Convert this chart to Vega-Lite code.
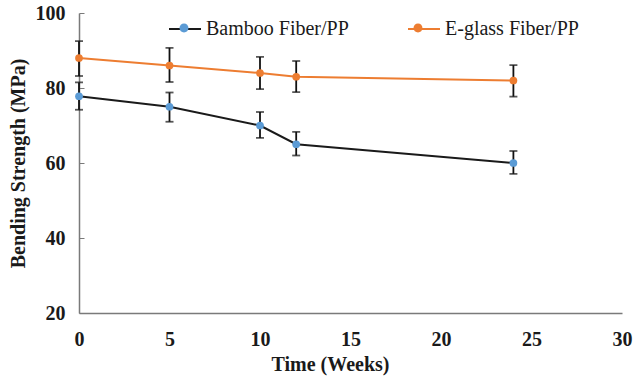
{
  "$schema": "https://vega.github.io/schema/vega-lite/v6.json",
  "width": 543,
  "height": 300,
  "autosize": {"type": "none"},
  "padding": {"left": 79, "top": 13, "right": 12, "bottom": 68},
  "background": "white",
  "config": {
    "view": {"stroke": null},
    "font": "Liberation Serif",
    "axis": {
      "grid": false,
      "domainColor": "#7a7a7a",
      "domainWidth": 1.5,
      "labelFont": "Liberation Serif",
      "labelFontSize": 20,
      "labelFontWeight": "bold",
      "labelColor": "#1a1a1a",
      "titleFont": "Liberation Serif",
      "titleFontSize": 20,
      "titleFontWeight": "bold",
      "titleColor": "#1a1a1a"
    },
    "axisX": {"ticks": false, "labelPadding": 16, "titlePadding": 5, "titleX": 251, "tickCount": 6, "labelFlush": false},
    "axisY": {"ticks": true, "tickSize": -5, "tickColor": "#7a7a7a", "tickWidth": 1, "labelPadding": 19, "titlePadding": 7, "tickCount": 5}
  },
  "data": {
    "values": [
      {"series": "Bamboo Fiber/PP", "week": 0, "strength": 77.8, "lo": 74.2, "hi": 81.5},
      {"series": "Bamboo Fiber/PP", "week": 5, "strength": 75, "lo": 71, "hi": 78.8},
      {"series": "Bamboo Fiber/PP", "week": 10, "strength": 70, "lo": 66.7, "hi": 73.6},
      {"series": "Bamboo Fiber/PP", "week": 12, "strength": 65, "lo": 62, "hi": 68.3},
      {"series": "Bamboo Fiber/PP", "week": 24, "strength": 60, "lo": 57.1, "hi": 63.2},
      {"series": "E-glass Fiber/PP", "week": 0, "strength": 88, "lo": 83.2, "hi": 92.5},
      {"series": "E-glass Fiber/PP", "week": 5, "strength": 86, "lo": 81.6, "hi": 90.7},
      {"series": "E-glass Fiber/PP", "week": 10, "strength": 84, "lo": 79.7, "hi": 88.3},
      {"series": "E-glass Fiber/PP", "week": 12, "strength": 83, "lo": 78.9, "hi": 87.2},
      {"series": "E-glass Fiber/PP", "week": 24, "strength": 82, "lo": 77.7, "hi": 86.1}
    ]
  },
  "layer": [
    {
      "mark": {"type": "rule", "color": "#111", "strokeWidth": 1.8},
      "encoding": {
        "x": {"field": "week", "type": "quantitative", "scale": {"domain": [0, 30]}, "title": "Time (Weeks)"},
        "y": {"field": "lo", "type": "quantitative", "scale": {"domain": [20, 100]}, "title": "Bending Strength (MPa)"},
        "y2": {"field": "hi"}
      }
    },
    {
      "mark": {"type": "tick", "orient": "horizontal", "color": "#111", "size": 8, "thickness": 1.8},
      "encoding": {
        "x": {"field": "week", "type": "quantitative", "title": "Time (Weeks)"},
        "y": {"field": "lo", "type": "quantitative", "title": "Bending Strength (MPa)"}
      }
    },
    {
      "mark": {"type": "tick", "orient": "horizontal", "color": "#111", "size": 8, "thickness": 1.8},
      "encoding": {
        "x": {"field": "week", "type": "quantitative", "title": "Time (Weeks)"},
        "y": {"field": "hi", "type": "quantitative", "title": "Bending Strength (MPa)"}
      }
    },
    {
      "mark": {"type": "line", "strokeWidth": 2},
      "encoding": {
        "x": {"field": "week", "type": "quantitative", "title": "Time (Weeks)"},
        "y": {"field": "strength", "type": "quantitative", "title": "Bending Strength (MPa)"},
        "stroke": {
          "field": "series", "type": "nominal",
          "scale": {"domain": ["Bamboo Fiber/PP", "E-glass Fiber/PP"], "range": ["#1a1a1a", "#ED7D31"]},
          "legend": {
            "orient": "none", "legendX": 89, "legendY": -1, "direction": "horizontal", "title": null,
            "symbolType": "M-1,0L1,0", "symbolSize": 1024, "symbolStrokeWidth": 2,
            "labelFont": "Liberation Serif", "labelFontSize": 20, "labelFontWeight": "normal", "labelColor": "#1a1a1a",
            "labelOffset": 4, "columnPadding": 55, "labelLimit": 300
          }
        }
      }
    },
    {
      "mark": {"type": "point", "filled": true, "size": 60, "opacity": 1},
      "encoding": {
        "x": {"field": "week", "type": "quantitative", "title": "Time (Weeks)"},
        "y": {"field": "strength", "type": "quantitative", "title": "Bending Strength (MPa)"},
        "fill": {
          "field": "series", "type": "nominal",
          "scale": {"range": ["#5B9BD5", "#ED7D31"]},
          "legend": {
            "orient": "none", "legendX": 89, "legendY": -1, "direction": "horizontal", "title": null,
            "symbolType": "M-1,0M1,0M0.28,0A0.28,0.28,0,1,1,-0.28,0A0.28,0.28,0,1,1,0.28,0", "symbolSize": 1024, "symbolStrokeWidth": 0,
            "labelExpr": "''", "labelFontSize": 20,
            "labelOffset": 4, "columnPadding": 198, "labelLimit": 300
          }
        }
      }
    }
  ]
}
